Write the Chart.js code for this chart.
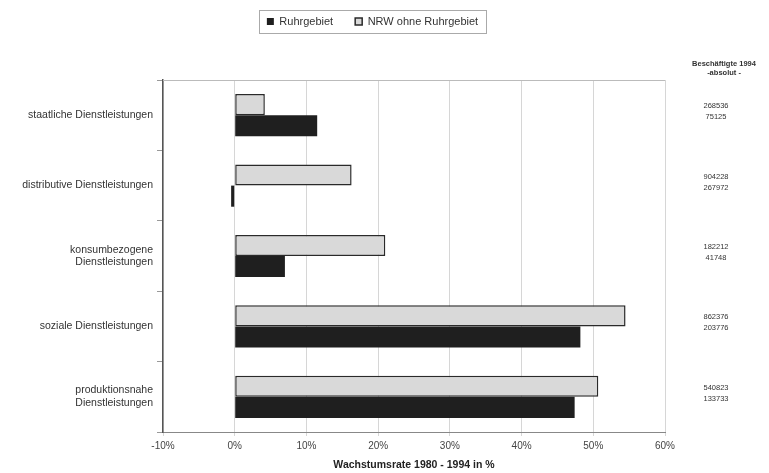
<!DOCTYPE html>
<html>
<head>
<meta charset="utf-8">
<script src="https://cdn.jsdelivr.net/npm/chart.js@4/dist/chart.umd.min.js"></script>
<style>
  html, body { margin: 0; padding: 0; background: #fff; }
  #wrap { width: 769px; height: 473px; }
</style>
</head>
<body>
<div id="wrap"><canvas id="chart"></canvas></div>
<script>
// Kategorien (Wirtschaftszweige)
const categories = [
    'staatliche Dienstleistungen',
    'distributive Dienstleistungen',
    ['konsumbezogene', 'Dienstleistungen'],
    'soziale Dienstleistungen',
    ['produktionsnahe', 'Dienstleistungen']
];

// Wachstumsrate 1980 - 1994 in %
const ruhrgebiet = [11.5, -0.5, 7, 48.2, 47.4];
const nrwOhneRuhr = [4.2, 16.3, 21, 54.5, 50.7];

// Beschäftigte 1994 absolut
const beschNrw = ['268536', '904228', '182212', '862376', '540823'];
const beschRuhr = ['75125', '267972', '41748', '203776', '133733'];

const xTicks = [-10, 0, 10, 20, 30, 40, 50, 60];

const FONT = '"Liberation Sans", Arial, sans-serif';

// Legende verschieben, Rahmen, obere Linie und Spalte rechts
const extras = {
    id: 'extras',
    beforeUpdate(chart) {
        const legend = chart.legend;
        if (legend && !legend._patched) {
            const fit = legend.fit;
            legend.fit = function() {
                fit.call(this);
                this.height = 80;
            };
            legend._patched = true;
        }
    },
    afterLayout(chart) {
        const legend = chart.legend;
        legend.left += 40;
        legend.right += 40;
        legend.top -= 6;
        legend.bottom -= 6;
    },
    afterDraw(chart) {
        const ctx = chart.ctx;
        const area = chart.chartArea;
        ctx.save();

        // Legendenrahmen
        const boxes = chart.legend.legendHitBoxes;
        if (boxes && boxes.length) {
            let l = Infinity, r = -Infinity, t = Infinity, b = -Infinity;
            boxes.forEach(h => {
                l = Math.min(l, h.left); r = Math.max(r, h.left + h.width);
                t = Math.min(t, h.top); b = Math.max(b, h.top + h.height);
            });
            ctx.strokeStyle = '#aaa';
            ctx.lineWidth = 1;
            ctx.strokeRect(Math.round(l - 8) + 0.5, Math.round(t - 6) + 0.5, Math.round(r - l + 16), Math.round(b - t + 12));
        }

        // obere Linie des Diagramms
        ctx.strokeStyle = '#bbb';
        ctx.beginPath();
        ctx.moveTo(area.left, area.top + 0.5);
        ctx.lineTo(area.right, area.top + 0.5);
        ctx.stroke();

        // Spalte "Beschäftigte 1994"
        ctx.fillStyle = '#333';
        ctx.textAlign = 'center';
        ctx.textBaseline = 'middle';
        ctx.font = 'bold 7.5px ' + FONT;
        ctx.fillText('Beschäftigte 1994', 724, 64);
        ctx.fillText('-absolut -', 724, 73);
        ctx.font = '7.5px ' + FONT;
        const y = chart.scales.y;
        categories.forEach((c, i) => {
            const py = y.getPixelForValue(i);
            ctx.fillText(beschNrw[i], 716, py - 9);
            ctx.fillText(beschRuhr[i], 716, py + 2);
        });
        ctx.restore();
    }
};

new Chart(document.getElementById('chart'), {
    type: 'bar',
    data: {
        labels: categories,
        datasets: [
            {
                label: 'NRW ohne Ruhrgebiet',
                data: nrwOhneRuhr,
                backgroundColor: '#d9d9d9',
                borderColor: '#2a2a2a',
                borderWidth: 1.5,
                borderSkipped: false
            },
            {
                label: 'Ruhrgebiet',
                data: ruhrgebiet,
                backgroundColor: '#1f1f1f',
                borderColor: '#1f1f1f',
                borderWidth: 0
            }
        ]
    },
    options: {
        indexAxis: 'y',
        responsive: true,
        maintainAspectRatio: false,
        animation: false,
        datasets: {
            bar: { categoryPercentage: 0.6, barPercentage: 1 }
        },
        layout: { padding: { top: 0, right: 104, bottom: 0, left: 0 } },
        plugins: {
            tooltip: { enabled: false },
            legend: {
                position: 'top',
                labels: {
                    boxWidth: 7,
                    boxHeight: 7,
                    padding: 22,
                    color: '#333',
                    font: { family: FONT, size: 11 },
                    sort: (a, b) => b.datasetIndex - a.datasetIndex
                }
            }
        },
        scales: {
            x: {
                min: -10,
                max: 60,
                afterBuildTicks(scale) {
                    scale.ticks = xTicks.map(v => ({ value: v }));
                },
                afterFit(scale) { scale.height = 41; },
                grid: { color: '#d6d6d6', tickLength: 4 },
                border: { color: '#888' },
                ticks: {
                    color: '#444',
                    padding: 4,
                    font: { family: FONT, size: 10 },
                    callback: v => v + '%'
                },
                title: {
                    display: true,
                    text: 'Wachstumsrate 1980 - 1994 in %',
                    color: '#222',
                    padding: { top: 6, bottom: 2 },
                    font: { family: FONT, size: 10.5, weight: 'bold' }
                }
            },
            y: {
                afterFit(scale) { scale.width = 163; },
                grid: { drawOnChartArea: false, offset: true, tickLength: 6, color: '#999' },
                border: { color: '#555', width: 1.5 },
                ticks: {
                    color: '#333',
                    padding: 4,
                    font: { family: FONT, size: 10.5 }
                }
            }
        }
    },
    plugins: [extras]
});
</script>
</body>
</html>
